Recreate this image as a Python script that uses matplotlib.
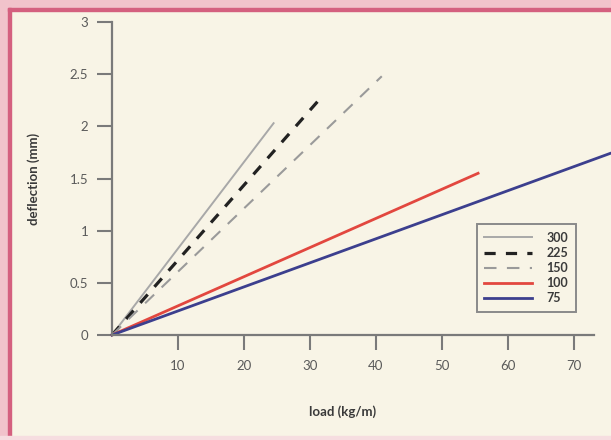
import matplotlib.pyplot as plt
from matplotlib.patches import Rectangle

# series: straight lines from the origin
labels = ["300", "225", "150", "100", "75"]
load_300 = [0, 24.5]
defl_300 = [0, 2.03]
load_225 = [0, 31.2]
defl_225 = [0, 2.24]
load_150 = [0, 40.9]
defl_150 = [0, 2.48]
load_100 = [0, 55.5]
defl_100 = [0, 1.55]
load_75 = [0, 75.5]
defl_75 = [0, 1.74]

xticks = [10, 20, 30, 40, 50, 60, 70]
yticks = [0, 0.5, 1, 1.5, 2, 2.5, 3]
ytick_labels = ["0", "0.5", "1", "1.5", "2", "2.5", "3"]

bg = "#f8f4e6"
plt.rcParams['font.family'] = ['Lato', 'DejaVu Sans']

fig = plt.figure(figsize=(6.11, 4.40), dpi=100, facecolor=bg)

# pink frame of the scanned page
W, H = 611, 440
def frame(x, y, w, h, c):
    fig.patches.append(Rectangle((x / W, 1 - (y + h) / H), w / W, h / H,
                                 transform=fig.transFigure, color=c, zorder=0))
frame(0, 0, W, 8, "#f1c3cb")
frame(0, 0, 8, H, "#f1c3cb")
frame(8, 8, W - 8, 3, "#d4607f")
frame(8, 8, 3, H - 8, "#d4607f")
frame(0, H - 4, W, 4, "#f6dde0")

ax = fig.add_axes([112 / W, 105 / H, 498 / W, 313 / H])
ax.set_facecolor("none")

ax.plot(load_300, defl_300, color="#a8a8a8", lw=1.4, label=labels[0], clip_on=False)
ax.plot(load_225, defl_225, color="#222222", lw=2.3, dashes=(3.5, 3.2), label=labels[1], clip_on=False)
ax.plot(load_150, defl_150, color="#9a9a9a", lw=1.5, dashes=(6, 5), label=labels[2], clip_on=False)
ax.plot(load_100, defl_100, color="#e2473f", lw=2.0, label=labels[3], clip_on=False)
ax.plot(load_75, defl_75, color="#3c3f8e", lw=2.0, label=labels[4], clip_on=False)

ax.set_xlim(0, 75.5)
ax.set_ylim(0, 3)

for s in ["top", "right"]:
    ax.spines[s].set_visible(False)
for s in ["left", "bottom"]:
    ax.spines[s].set_color("#7a7a7a")
    ax.spines[s].set_linewidth(1.6)
ax.spines["bottom"].set_bounds(0, 73)

ax.set_xticks(xticks)
ax.set_yticks(yticks)
ax.set_yticklabels(ytick_labels)
ax.tick_params(axis="both", direction="out", length=11, width=1.5, color="#7a7a7a",
               labelcolor="#5a5a5a", labelsize=9.5)
ax.tick_params(axis="x", pad=7)
ax.tick_params(axis="y", pad=6)

ax.set_xlabel("load (kg/m)", fontsize=9.5, fontweight="bold", color="#3a3a3a")
ax.set_ylabel("deflection (mm)", fontsize=9.5, fontweight="bold", color="#3a3a3a")
ax.xaxis.set_label_coords(0.462, -0.225)
ax.yaxis.set_label_coords(-0.145, 0.5)

leg = ax.legend(loc="lower right", bbox_to_anchor=(0.944, 0.054), fancybox=False,
                framealpha=1, facecolor=bg, edgecolor="#8a8a8a", handlelength=3.8,
                handletextpad=1.2, labelspacing=0.25, borderpad=0.6,
                prop={"weight": "bold", "size": 9})
leg.get_frame().set_linewidth(1.4)
for t in leg.get_texts():
    t.set_color("#3a3a3a")

fig.savefig("out.png", dpi=100, facecolor=bg)
